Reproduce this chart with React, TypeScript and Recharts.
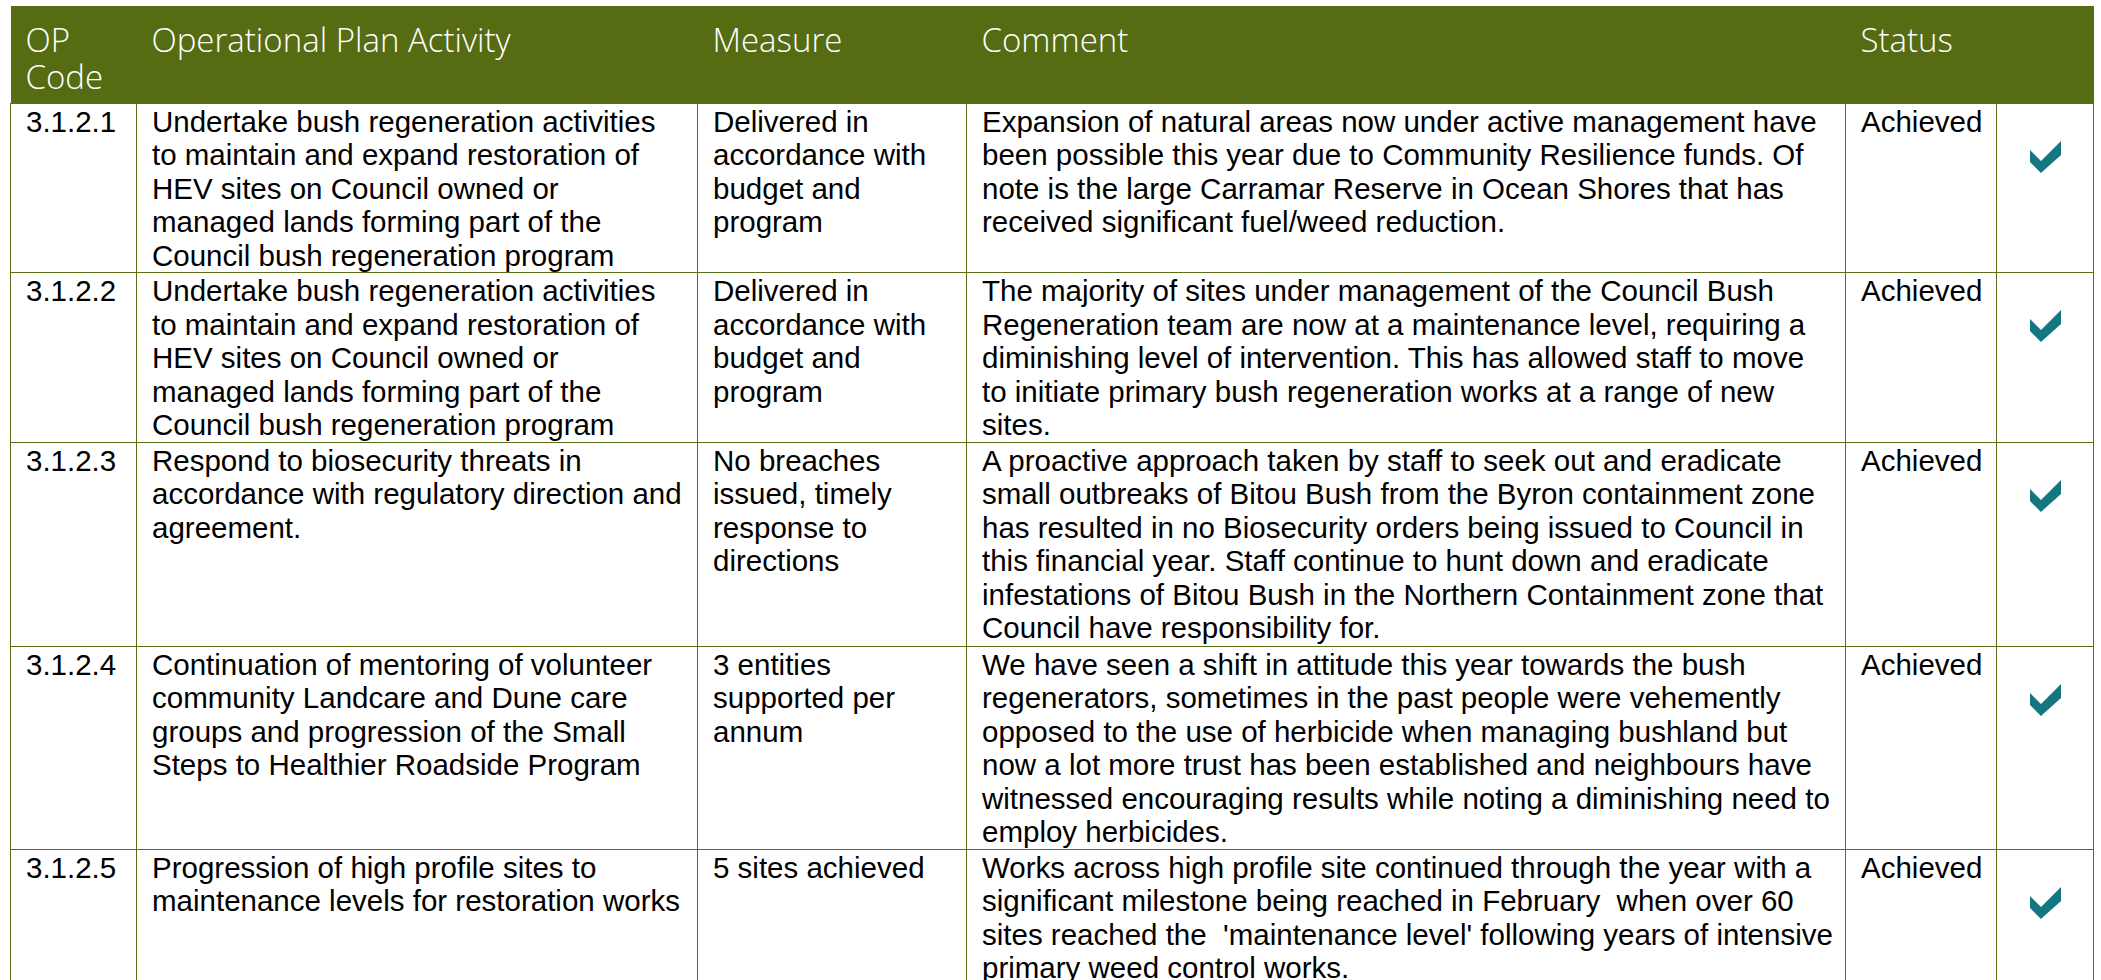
import React from "react";
import { Surface, Polygon } from "recharts";

// table contents
const headers = ["OP\nCode", "Operational Plan Activity", "Measure", "Comment", "Status", ""];

const codes = ["3.1.2.1", "3.1.2.2", "3.1.2.3", "3.1.2.4", "3.1.2.5"];

const activities = [
  "Undertake bush regeneration activities\nto maintain and expand restoration of\nHEV sites on Council owned or\nmanaged lands forming part of the\nCouncil bush regeneration program",
  "Undertake bush regeneration activities\nto maintain and expand restoration of\nHEV sites on Council owned or\nmanaged lands forming part of the\nCouncil bush regeneration program",
  "Respond to biosecurity threats in\naccordance with regulatory direction and\nagreement.",
  "Continuation of mentoring of volunteer\ncommunity Landcare and Dune care\ngroups and progression of the Small\nSteps to Healthier Roadside Program",
  "Progression of high profile sites to\nmaintenance levels for restoration works",
];

const measures = [
  "Delivered in\naccordance with\nbudget and\nprogram",
  "Delivered in\naccordance with\nbudget and\nprogram",
  "No breaches\nissued, timely\nresponse to\ndirections",
  "3 entities\nsupported per\nannum",
  "5 sites achieved",
];

const comments = [
  "Expansion of natural areas now under active management have\nbeen possible this year due to Community Resilience funds. Of\nnote is the large Carramar Reserve in Ocean Shores that has\nreceived significant fuel/weed reduction.",
  "The majority of sites under management of the Council Bush\nRegeneration team are now at a maintenance level, requiring a\ndiminishing level of intervention. This has allowed staff to move\nto initiate primary bush regeneration works at a range of new\nsites.",
  "A proactive approach taken by staff to seek out and eradicate\nsmall outbreaks of Bitou Bush from the Byron containment zone\nhas resulted in no Biosecurity orders being issued to Council in\nthis financial year. Staff continue to hunt down and eradicate\ninfestations of Bitou Bush in the Northern Containment zone that\nCouncil have responsibility for.",
  "We have seen a shift in attitude this year towards the bush\nregenerators, sometimes in the past people were vehemently\nopposed to the use of herbicide when managing bushland but\nnow a lot more trust has been established and neighbours have\nwitnessed encouraging results while noting a diminishing need to\nemploy herbicides.",
  "Works across high profile site continued through the year with a\nsignificant milestone being reached in February  when over 60\nsites reached the  'maintenance level' following years of intensive\nprimary weed control works.",
];

const statuses = ["Achieved", "Achieved", "Achieved", "Achieved", "Achieved"];
const achievedFlags = [true, true, true, true, true];

// layout
const colWidths = [126, 561, 269, 879, 151, 97];
const rowHeights = [169, 169, 204, 203, 180];
const OLIVE = "#566c13";
const BORDER = "#5b7014";
const TEAL = "#137681";

const cellStyle: React.CSSProperties = {
  border: `1px solid ${BORDER}`,
  verticalAlign: "top",
  padding: "1px 15px 0 15px",
  whiteSpace: "pre",
  overflow: "visible",
  fontFamily: "Arial, 'Liberation Sans', sans-serif",
  fontSize: 29.5,
  lineHeight: "33.5px",
  color: "#000",
};

const headStyle: React.CSSProperties = {
  background: OLIVE,
  color: "#fff",
  fontFamily: "'Open Sans', sans-serif",
  fontWeight: 300,
  fontSize: 33,
  lineHeight: "37px",
  verticalAlign: "top",
  textAlign: "left",
  padding: "15px 15px 0 15px",
  whiteSpace: "pre",
  border: "none",
};

function CheckIcon() {
  return (
    <Surface
      width={31}
      height={32}
      viewBox={{ x: 0, y: 0, width: 31, height: 32 }}
      style={{ display: "block", margin: "0 auto" }}
    >
      <Polygon
        points={[
          { x: 0, y: 9 },
          { x: 11, y: 20 },
          { x: 31, y: 0 },
          { x: 31, y: 14 },
          { x: 11, y: 32 },
          { x: 0, y: 21 },
        ]}
        fill={TEAL}
        stroke="none"
      />
    </Surface>
  );
}

export default function App() {
  return (
    <div
      style={{
        position: "fixed",
        left: 10,
        top: 6,
        width: 2085,
        height: 974,
        overflow: "hidden",
        background: "#fff",
      }}
    >
      <table
        style={{
          borderCollapse: "collapse",
          tableLayout: "fixed",
          width: colWidths.reduce((a, b) => a + b, 0),
        }}
      >
        <colgroup>
          {colWidths.map((w, i) => (
            <col key={i} style={{ width: w }} />
          ))}
        </colgroup>
        <thead>
          <tr style={{ height: 97 }}>
            {headers.map((h, i) => (
              <th key={i} style={headStyle}>
                {h}
              </th>
            ))}
          </tr>
        </thead>
        <tbody>
          {codes.map((code, r) => (
            <tr key={code} style={{ height: rowHeights[r] }}>
              <td style={cellStyle}>{code}</td>
              <td style={cellStyle}>{activities[r]}</td>
              <td style={cellStyle}>{measures[r]}</td>
              <td style={cellStyle}>{comments[r]}</td>
              <td style={cellStyle}>{statuses[r]}</td>
              <td style={{ ...cellStyle, paddingTop: 37, paddingLeft: 0, paddingRight: 0 }}>
                {achievedFlags[r] ? <CheckIcon /> : null}
              </td>
            </tr>
          ))}
        </tbody>
      </table>
    </div>
  );
}
